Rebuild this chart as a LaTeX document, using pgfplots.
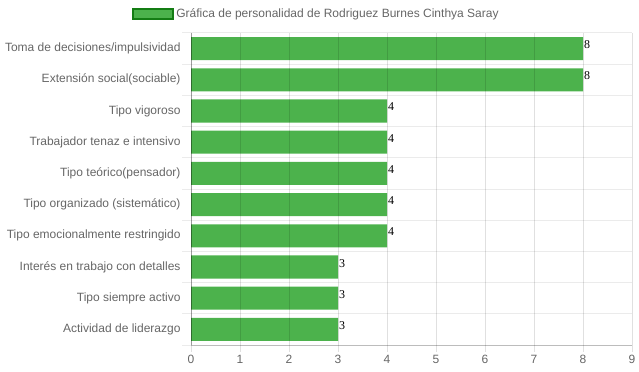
\documentclass[border=0pt]{standalone}
\usepackage{fontspec}
\setmainfont{Liberation Sans}
\newfontfamily\serifnum{Liberation Serif}
\usepackage{pgfplots}
\pgfplotsset{compat=1.18}
\definecolor{barg}{RGB}{76,178,76}
\definecolor{bord}{RGB}{20,125,20}
\definecolor{txt}{RGB}{102,102,102}
\begin{document}
\begin{tikzpicture}
\path[use as bounding box] (0,0) rectangle (639bp,372bp);
\begin{axis}[
  at={(191bp,27bp)}, anchor=south west,
  scale only axis, width=441bp, height=312bp,
  axis on top,
  xbar, xmin=0, xmax=9, ymin=-0.5, ymax=9.5, y dir=reverse,
  xtick={0,...,9},
  ytick={0,...,9},
  yticklabels={Toma de decisiones/impulsividad,Extensión social(sociable),Tipo vigoroso,Trabajador tenaz e intensivo,Tipo teórico(pensador),Tipo organizado (sistemático),Tipo emocionalmente restringido,Interés en trabajo con detalles,Tipo siempre activo,Actividad de liderazgo},
  minor ytick={-0.5,0.5,...,9.5},
  xmajorgrids, yminorgrids,
  major grid style={black, opacity=0.12, line width=1bp},
  minor grid style={black, opacity=0.08, line width=1bp},
  axis lines*=left,
  x axis line style={black, opacity=0.2, line width=1bp},
  y axis line style={black, opacity=0.3, line width=1bp},
  tick align=outside,
  major tick length=7bp, minor tick length=9bp,
  major x tick style={black, opacity=0.12, line width=1bp},
  minor y tick style={black, opacity=0.08, line width=1bp},
  major y tick style={draw=none},
  ticklabel style={font=\fontsize{12bp}{14bp}\selectfont, text=txt},
  /pgf/number format/assume math mode=true,
  bar width=0.74,
  nodes near coords,
  nodes near coords style={font=\serifnum\fontsize{12bp}{14bp}\selectfont, anchor=base west, inner sep=1bp, text=black},
  legend style={draw=none, fill=none, at={(0.284,1.061)}, anchor=center, font=\fontsize{12bp}{14bp}\selectfont, text=txt},
  legend image code/.code={\draw[fill=barg,draw=bord,line width=2.5bp] (0bp,-5bp) rectangle (40bp,5bp);},
]
\addplot[fill=barg, draw=none] coordinates {
  (8,0) (8,1) (4,2) (4,3) (4,4) (4,5) (4,6) (3,7) (3,8) (3,9)
};
\addlegendentry{Gráfica de personalidad de Rodriguez Burnes Cinthya Saray}
\end{axis}
\end{tikzpicture}
\end{document}
